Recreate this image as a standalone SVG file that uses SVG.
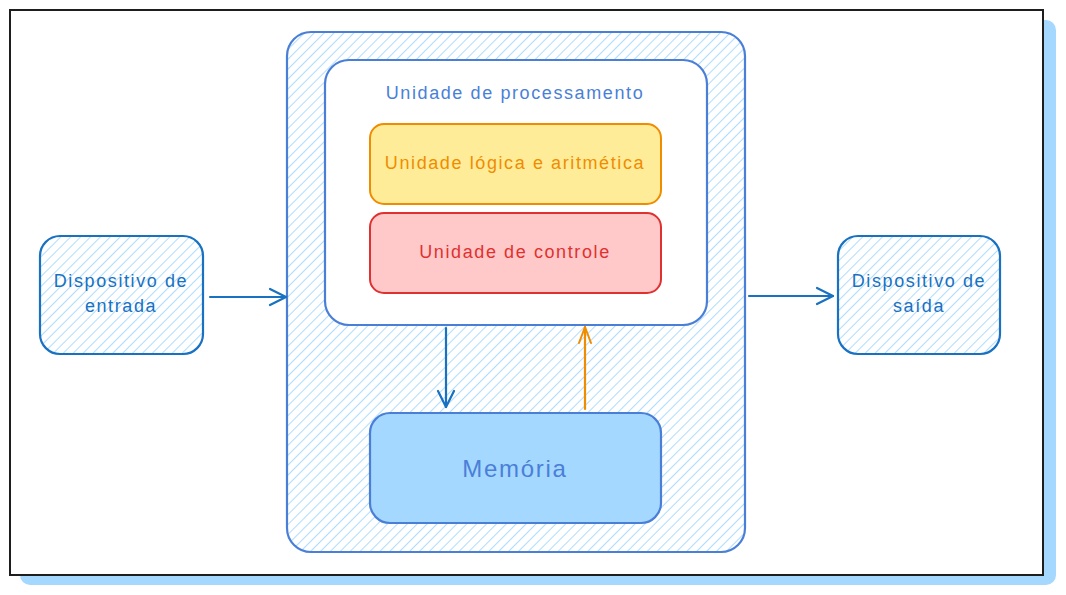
<svg xmlns="http://www.w3.org/2000/svg" width="1066" height="595" viewBox="0 0 1066 595">
<defs>
<pattern id="hatch" patternUnits="userSpaceOnUse" width="7" height="7" patternTransform="rotate(45)">
<rect width="7" height="7" fill="#ffffff"/>
<line x1="0" y1="0" x2="0" y2="7" stroke="#a5d8ff" stroke-width="1.8"/>
</pattern>
<marker id="headBlue" viewBox="0 0 20 20" refX="18" refY="10" markerWidth="20" markerHeight="20" markerUnits="userSpaceOnUse" orient="auto">
<path d="M2,2 L18,10 L2,18" fill="none" stroke="#1971c2" stroke-width="2.2" stroke-linecap="round" stroke-linejoin="round"/>
</marker>
<marker id="headOrange" viewBox="0 0 20 20" refX="18" refY="10" markerWidth="20" markerHeight="20" markerUnits="userSpaceOnUse" orient="auto">
<path d="M2,4 L18,10 L2,16" fill="none" stroke="#f08c00" stroke-width="2" stroke-linecap="round" stroke-linejoin="round"/>
</marker>
</defs>
<style>
text{font-family:"Liberation Sans","Noto Sans",sans-serif;text-anchor:middle;dominant-baseline:central;font-size:18px;letter-spacing:1.6px}
.dev{fill:url(#hatch);stroke:#1971c2;stroke-width:2.2}
.dev-t{fill:#1971c2}
.cont{stroke:#4a7fd8;stroke-width:2.2}
.conn{fill:none;stroke-width:2.2;stroke-linecap:round}
</style>
<rect width="1066" height="595" fill="#ffffff"/>
<g id="frame">
<rect x="20" y="20" width="1036" height="565" rx="10" fill="#a5d8ff"/>
<rect x="10" y="10" width="1033" height="565" fill="#ffffff" stroke="#1e1e1e" stroke-width="2"/>
</g>
<g id="computador">
<rect class="cont" x="287" y="32" width="458" height="520" rx="24" fill="url(#hatch)"/>
</g>
<g id="unidade-processamento">
<rect class="cont" x="325" y="60" width="382" height="265" rx="24" fill="#ffffff"/>
<text x="515" y="93" fill="#4a7fd8">Unidade de processamento</text>
</g>
<g id="ula">
<rect x="370" y="124" width="291" height="80" rx="14" fill="#ffec99" stroke="#f08c00" stroke-width="2"/>
<text x="515" y="163" fill="#f08c00">Unidade lógica e aritmética</text>
</g>
<g id="controle">
<rect x="370" y="213" width="291" height="80" rx="14" fill="#ffc9c9" stroke="#e03131" stroke-width="2"/>
<text x="515" y="252" fill="#e03131">Unidade de controle</text>
</g>
<g id="memoria">
<rect x="370" y="413" width="291" height="110" rx="20" fill="#a5d8ff" stroke="#4a7fd8" stroke-width="2.2"/>
<text x="515" y="468" fill="#4a7fd8" style="font-size:24px;letter-spacing:1.7px">Memória</text>
</g>
<g id="entrada">
<rect class="dev" x="40" y="236" width="163" height="118" rx="20"/>
<text class="dev-t" x="121" y="281">Dispositivo de</text>
<text class="dev-t" x="121" y="306">entrada</text>
</g>
<g id="saida">
<rect class="dev" x="838" y="236" width="162" height="118" rx="20"/>
<text class="dev-t" x="919" y="281">Dispositivo de</text>
<text class="dev-t" x="919" y="306">saída</text>
</g>
<g id="connectors">
<line class="conn" x1="210" y1="297" x2="286" y2="297" stroke="#1971c2" stroke-width="3" marker-end="url(#headBlue)"/>
<line class="conn" x1="749" y1="296" x2="833" y2="296" stroke="#1971c2" marker-end="url(#headBlue)"/>
<line class="conn" x1="446" y1="328" x2="446" y2="407" stroke="#1971c2" marker-end="url(#headBlue)"/>
<line class="conn" x1="585" y1="409" x2="585" y2="327" stroke="#f08c00" marker-end="url(#headOrange)"/>
</g>
</svg>
